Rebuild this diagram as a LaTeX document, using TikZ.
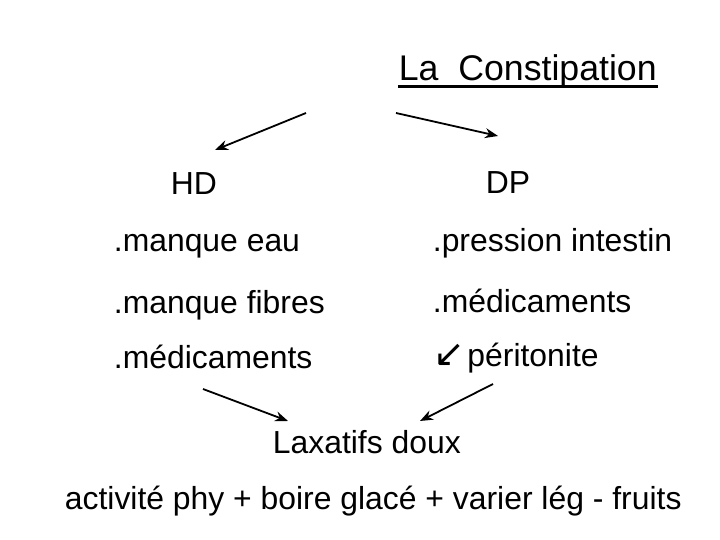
\documentclass[tikz,border=0pt]{standalone}
\usepackage{fontspec}
\setmainfont{Liberation Sans}
\newfontfamily\symbfont{DejaVu Sans}
\usetikzlibrary{arrows.meta}
\begin{document}
\begin{tikzpicture}[x=1bp,y=-1bp,>={Stealth[length=13bp,width=10bp]},line width=1.8bp]
  \tikzstyle{txt}=[anchor=base west, inner sep=0pt, font=\fontsize{32}{38}\selectfont]
  \tikzstyle{link}=[->, black]
  \useasboundingbox (0,0) rectangle (720,540);

  % Title
  \node[txt, font=\fontsize{35.8}{42}\selectfont] (title) at (398,81) {La~~Constipation};
  \draw[line width=3bp] ([yshift=-6bp]title.base west) -- ([yshift=-6bp]title.base east);

  % Left column
  \node[txt] (hd) at (170,195) {HD};
  \node[txt] (eau) at (113,252) {.manque eau};
  \node[txt] (fibres) at (113,313) {.manque fibres};
  \node[txt] (medsl) at (113,368) {.médicaments};

  % Right column
  \node[txt] (dp) at (485,194) {DP};
  \node[txt] (pression) at (432,252) {.pression intestin};
  \node[txt] (medsr) at (432,312) {.médicaments};
  \node[txt] (perit) at (433,366) {{\symbfont\fontsize{38}{40}\selectfont ↙}\hspace{-7bp} péritonite};

  % Treatment
  \node[txt] (laxatifs) at (272,453) {Laxatifs doux};
  \node[txt] (conseils) at (64,509) {activité phy + boire glacé + varier lég - fruits};

  % Arrows
  \coordinate (hdfrom) at (306,113);   \coordinate (hdto) at (215,150);
  \coordinate (dpfrom) at (396,113);   \coordinate (dpto) at (498,136);
  \coordinate (laxl) at (203,389);     \coordinate (laxltip) at (288,421);
  \coordinate (laxr) at (493,384);     \coordinate (laxrtip) at (420,421);
  \draw[link] (hdfrom) -- (hdto);
  \draw[link] (dpfrom) -- (dpto);
  \draw[link] (laxl) -- (laxltip);
  \draw[link] (laxr) -- (laxrtip);
\end{tikzpicture}
\end{document}
